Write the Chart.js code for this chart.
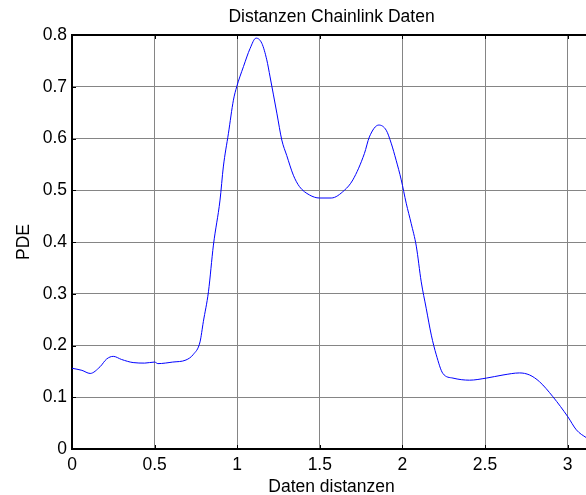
<!DOCTYPE html>
<html lang="de">

<head>
    <meta charset="UTF-8">
    <title>Distanzen Chainlink Daten</title>
    <script src="https://cdn.jsdelivr.net/npm/chart.js"></script>
    <style>
        html, body {
            margin: 0;
            padding: 0;
            background: #fff;
            overflow: hidden;
        }
    </style>
</head>

<body>
    <canvas id="pdeChart" width="592" height="495"></canvas>

    <script>
        // Werte
        const distances = [0.00, 0.06, 0.11, 0.17, 0.21, 0.25, 0.30, 0.37, 0.44, 0.50, 0.52, 0.61, 0.69, 0.735,
            0.775, 0.795, 0.826, 0.856, 0.896, 0.916, 0.947, 0.977, 0.997, 1.038, 1.078, 1.114, 1.149, 1.179,
            1.199, 1.240, 1.270, 1.300, 1.340, 1.377, 1.437, 1.498, 1.569, 1.649, 1.700, 1.770, 1.800, 1.857,
            1.902, 1.932, 1.962, 1.993, 2.023, 2.053, 2.084, 2.114, 2.144, 2.175, 2.205, 2.245, 2.306, 2.406,
            2.508, 2.609, 2.709, 2.770, 2.830, 2.911, 3.002, 3.053, 3.113, 3.1416];
        const pde = [0.156, 0.152, 0.146, 0.159, 0.174, 0.179, 0.173, 0.167, 0.166, 0.168, 0.165, 0.168, 0.172, 0.183,
            0.207, 0.246, 0.304, 0.394, 0.481, 0.545, 0.610, 0.674, 0.700, 0.739, 0.774, 0.794, 0.784, 0.752,
            0.719, 0.649, 0.597, 0.567, 0.529, 0.507, 0.491, 0.485, 0.485, 0.500, 0.520, 0.571, 0.603, 0.626,
            0.616, 0.591, 0.558, 0.520, 0.475, 0.436, 0.392, 0.323, 0.272, 0.220, 0.182, 0.146, 0.137, 0.133,
            0.137, 0.143, 0.147, 0.143, 0.130, 0.101, 0.062, 0.037, 0.022, 0.017];
        const xMax = Math.PI;
        const titleText = 'Distanzen Chainlink Daten';

        const FONT = '"Liberation Sans", Arial, sans-serif';
        const SIZE = 17.5;

        // Titel ueber der Achsenmitte, oberer Rahmen und innere Tickmarken (MATLAB-Stil)
        const matlabFrame = {
            id: 'matlabFrame',
            afterDraw(chart) {
                const { ctx, chartArea: a, scales } = chart;
                ctx.save();
                ctx.strokeStyle = '#000';
                ctx.lineWidth = 2;
                ctx.beginPath();
                ctx.moveTo(a.left - 1, a.top);
                ctx.lineTo(a.right + 5, a.top);
                ctx.stroke();

                ctx.lineWidth = 1;
                ctx.beginPath();
                scales.x.ticks.forEach(t => {
                    const px = Math.round(scales.x.getPixelForValue(t.value)) + 0.5;
                    ctx.moveTo(px, a.bottom);
                    ctx.lineTo(px, a.bottom - 4);
                    ctx.moveTo(px, a.top);
                    ctx.lineTo(px, a.top + 4);
                });
                scales.y.ticks.forEach(t => {
                    const py = Math.round(scales.y.getPixelForValue(t.value)) + 0.5;
                    ctx.moveTo(a.left, py);
                    ctx.lineTo(a.left + 4, py);
                });
                ctx.stroke();

                ctx.fillStyle = '#000';
                ctx.font = SIZE + 'px ' + FONT;
                ctx.textAlign = 'center';
                ctx.textBaseline = 'alphabetic';
                ctx.fillText(titleText, (a.left + a.right) / 2, 22);
                ctx.restore();
            }
        };

        const ctx = document.getElementById('pdeChart').getContext('2d');
        const pdeChart = new Chart(ctx, {
            type: 'line',
            data: {
                datasets: [{
                    data: distances.map((d, i) => ({ x: d, y: pde[i] })),
                    borderColor: '#0000ff',
                    borderWidth: 1,
                    pointRadius: 0,
                    fill: false,
                    cubicInterpolationMode: 'monotone'
                }]
            },
            options: {
                responsive: false,
                animation: false,
                layout: {
                    padding: { top: 35, right: 1, left: 0, bottom: 0 }
                },
                plugins: {
                    legend: { display: false },
                    tooltip: { enabled: false }
                },
                scales: {
                    x: {
                        type: 'linear',
                        min: 0,
                        max: xMax,
                        afterFit: s => { s.height = 46; },
                        ticks: {
                            stepSize: 0.5,
                            includeBounds: false,
                            color: '#000',
                            padding: 6,
                            maxRotation: 0,
                            font: { family: FONT, size: SIZE },
                            callback: v => +v.toFixed(1)
                        },
                        grid: { color: '#858585', lineWidth: 1, drawTicks: false },
                        border: { color: '#000', width: 2 },
                        title: {
                            display: true,
                            text: 'Daten distanzen',
                            color: '#000',
                            font: { family: FONT, size: SIZE },
                            padding: { top: 0, bottom: -3 }
                        }
                    },
                    y: {
                        min: 0,
                        max: 0.8,
                        afterFit: s => { s.width = 72; },
                        ticks: {
                            stepSize: 0.1,
                            color: '#000',
                            padding: 5,
                            font: { family: FONT, size: SIZE },
                            callback: v => +v.toFixed(1)
                        },
                        grid: { color: '#858585', lineWidth: 1, drawTicks: false },
                        border: { color: '#000', width: 2 },
                        title: {
                            display: true,
                            text: 'PDE',
                            color: '#000',
                            font: { family: FONT, size: SIZE },
                            padding: { top: 14, bottom: 0 }
                        }
                    }
                }
            },
            plugins: [matlabFrame]
        });
    </script>
</body>

</html>
